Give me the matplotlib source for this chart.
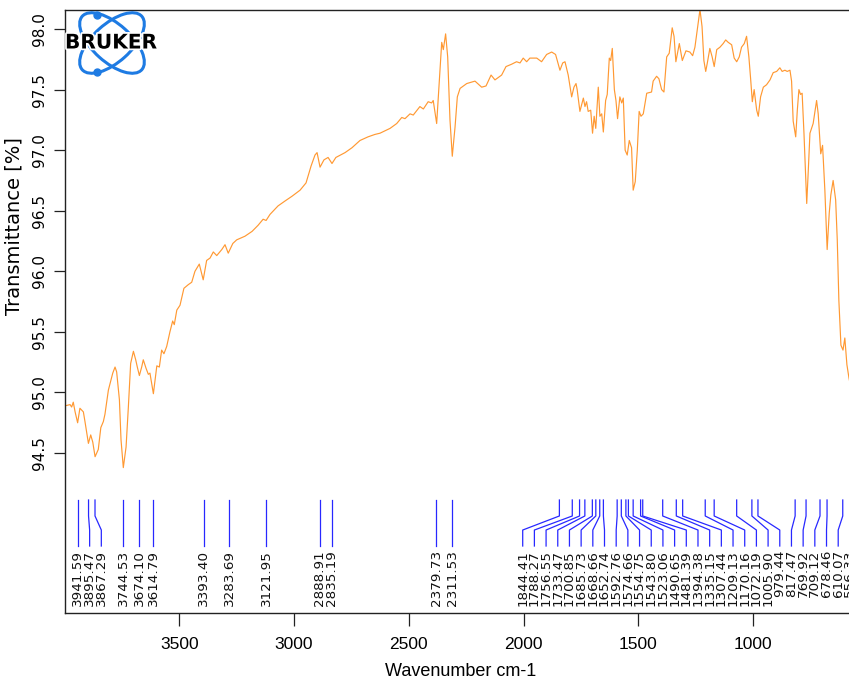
import matplotlib
matplotlib.use("Agg")
import matplotlib.pyplot as plt
import matplotlib.transforms as mtransforms
import matplotlib.patheffects as pe
from matplotlib.patches import Ellipse
import numpy as np

# spectrum (wavenumber cm-1, transmittance %)
wavenumber = [
    3998, 3976, 3969, 3962, 3954, 3943, 3933, 3918, 3911, 3896, 3886, 3877, 3867, 3853, 3842, 3831,
    3824, 3809, 3790, 3780, 3773, 3761, 3754, 3744, 3732, 3722, 3712, 3700, 3690, 3683, 3674, 3664,
    3657, 3645, 3635, 3628, 3613, 3606, 3598, 3587, 3577, 3567, 3555, 3541, 3529, 3522, 3511, 3497,
    3480, 3461, 3446, 3432, 3413, 3396, 3381, 3366, 3352, 3337, 3315, 3301, 3287, 3267, 3250,
    3214, 3183, 3157, 3135, 3122, 3105, 3070, 3040, 3009, 2974, 2948, 2926, 2909, 2900, 2887, 2870,
    2852, 2835, 2818, 2778, 2748, 2713, 2678, 2648,
    2626, 2582, 2553, 2531, 2517, 2495, 2481, 2452, 2437, 2416, 2401, 2394, 2379, 2368, 2357, 2350,
    2340, 2331, 2321, 2311, 2299, 2289, 2277, 2248, 2212, 2183, 2164, 2142, 2125, 2096, 2077, 2052,
    2031, 2016, 2002, 1987, 1973, 1943, 1922, 1900, 1878, 1861, 1842, 1830, 1820, 1806, 1791, 1781,
    1772, 1767, 1755, 1740, 1733, 1726, 1719, 1708, 1700, 1693, 1686, 1675, 1668, 1660, 1653, 1643,
    1636, 1627, 1621, 1614, 1605, 1598, 1591, 1581, 1573, 1566, 1558, 1549, 1540, 1530, 1523, 1514,
    1505, 1497, 1489, 1479, 1464, 1443, 1436, 1421, 1411, 1399, 1389, 1377, 1366, 1353, 1345, 1337,
    1322, 1309, 1293, 1276, 1264, 1254, 1244, 1232, 1223, 1215, 1207, 1200, 1189, 1179, 1170, 1159,
    1145, 1131, 1120, 1109, 1094, 1083, 1072, 1061, 1051, 1039, 1029, 1019, 1011, 1004, 996, 985,
    978, 968, 956, 942, 927, 913, 898, 884, 874, 862, 852, 840, 833, 826, 815, 808,
    801, 794, 787, 779, 767, 760, 753, 739, 724, 717, 706, 698, 688, 678, 669, 662,
    652, 641, 634, 627, 618, 609, 601, 592, 583, 565, 548,
]
transmittance = [
    94.89, 94.90, 94.88, 94.92, 94.84, 94.75, 94.87, 94.84, 94.76, 94.58, 94.65, 94.59, 94.47, 94.53, 94.71, 94.76,
    94.82, 95.02, 95.16, 95.21, 95.17, 94.94, 94.61, 94.38, 94.55, 94.88, 95.24, 95.34, 95.27, 95.21, 95.14, 95.21,
    95.27, 95.20, 95.15, 95.16, 94.99, 95.10, 95.22, 95.21, 95.35, 95.32, 95.38, 95.50, 95.59, 95.56, 95.68, 95.72,
    95.86, 95.89, 95.91, 96.00, 96.06, 95.93, 96.09, 96.11, 96.16, 96.13, 96.18, 96.22, 96.15, 96.23, 96.26,
    96.29, 96.33, 96.38, 96.43, 96.42, 96.47, 96.54, 96.58, 96.62, 96.67, 96.73, 96.87, 96.96, 96.98, 96.86, 96.92,
    96.94, 96.89, 96.94, 96.98, 97.02, 97.08, 97.11, 97.13,
    97.14, 97.18, 97.22, 97.27, 97.26, 97.30, 97.29, 97.36, 97.34, 97.40, 97.39, 97.41, 97.22, 97.55, 97.89, 97.83,
    97.96, 97.77, 97.25, 96.95, 97.19, 97.44, 97.51, 97.55, 97.57, 97.52, 97.53, 97.62, 97.58, 97.62, 97.69, 97.71,
    97.73, 97.72, 97.76, 97.73, 97.76, 97.76, 97.73, 97.79, 97.81, 97.79, 97.66, 97.72, 97.73, 97.62, 97.44, 97.52,
    97.55, 97.50, 97.32, 97.43, 97.36, 97.40, 97.32, 97.33, 97.14, 97.28, 97.18, 97.52, 97.28, 97.30, 97.15, 97.41,
    97.46, 97.76, 97.74, 97.84, 97.50, 97.41, 97.26, 97.44, 97.39, 97.43, 97.00, 96.96, 97.08, 97.02, 96.67, 96.74,
    97.00, 97.32, 97.28, 97.30, 97.47, 97.48, 97.57, 97.61, 97.59, 97.50, 97.48, 97.77, 97.80, 98.01, 97.94, 97.73,
    97.88, 97.74, 97.82, 97.81, 97.78, 97.85, 97.99, 98.16, 98.02, 97.74, 97.65, 97.72, 97.84, 97.77, 97.69, 97.83,
    97.85, 97.88, 97.91, 97.89, 97.87, 97.76, 97.73, 97.77, 97.85, 97.88, 97.94, 97.77, 97.58, 97.40, 97.50, 97.33,
    97.28, 97.44, 97.52, 97.54, 97.58, 97.64, 97.65, 97.68, 97.65, 97.66, 97.65, 97.66, 97.57, 97.24, 97.11, 97.33,
    97.50, 97.46, 97.47, 97.14, 96.56, 96.84, 97.14, 97.22, 97.41, 97.30, 96.97, 97.04, 96.67, 96.18, 96.48, 96.63,
    96.75, 96.59, 96.26, 95.76, 95.39, 95.35, 95.45, 95.23, 95.12, 94.95, 94.85,
]

# picked peaks (the last one sits past the cropped right edge)
peaks = [
    3941.59, 3895.47, 3867.29, 3744.53, 3674.10, 3614.79, 3393.40, 3283.69, 3121.95,
    2888.91, 2835.19, 2379.73, 2311.53,
    1844.41, 1788.27, 1756.55, 1733.47, 1700.85, 1685.73, 1668.66, 1652.74,
    1592.76, 1574.66, 1554.75, 1543.80, 1523.06, 1490.65, 1481.39, 1394.38,
    1335.15, 1307.44, 1209.13, 1170.16, 1072.19, 1005.90, 979.44,
    817.47, 769.92, 709.12, 678.46, 610.07, 556.33,
]
peak_labels = ['%.2f' % p for p in peaks]

x_ticks = [3500, 3000, 2500, 2000, 1500, 1000]
y_ticks = [94.5, 95.0, 95.5, 96.0, 96.5, 97.0, 97.5, 98.0]

narrow = ['Liberation Sans Narrow', 'Liberation Sans', 'DejaVu Sans']
plt.rcParams['font.family'] = ['DejaVu Sans']

fig = plt.figure(figsize=(8.49, 6.86), dpi=100)
# the plot frame runs a little past the right edge of the picture (it was cropped)
ax = fig.add_axes([65 / 849, 73 / 686, 792 / 849, 603 / 686])
ax.plot(wavenumber, transmittance, color='#FF9933', linewidth=0.85)
ax.set_xlim(3998, 548)
ax.set_ylim(93.18, 98.157)

for s in ax.spines.values():
    s.set_linewidth(1.0)
    s.set_color('#222222')

ax.set_xticks(x_ticks)
ax.set_xticklabels([str(x) for x in x_ticks])
ax.set_yticks(y_ticks)
ax.set_yticklabels(['%.1f' % y for y in y_ticks])
ax.tick_params(axis='x', length=9, width=0.9, pad=8.5, labelsize=12.5, color='#222222')
ax.tick_params(axis='y', length=8, width=0.9, pad=5, labelsize=11, labelrotation=90, color='#222222')
for lbl in ax.get_xticklabels():
    lbl.set_fontfamily(narrow)
for lbl in ax.get_yticklabels():
    lbl.set_verticalalignment('center')

ax.set_xlabel('Wavenumber cm-1', fontsize=13, family=narrow, labelpad=8)
ax.set_ylabel('Transmittance [%]', fontsize=14)
ax.yaxis.set_label_coords(-0.052, 0.642)

# peak marker lines and labels, spread so they do not overlap
min_gap = 50.9
label_bound = 579.0
pos = list(peaks)
for i in range(1, len(pos)):
    pos[i] = min(pos[i], pos[i - 1] - min_gap)
pos[-1] = max(pos[-1], label_bound)
for i in range(len(pos) - 2, -1, -1):
    pos[i] = max(pos[i], pos[i + 1] + min_gap)

trans = mtransforms.blended_transform_factory(ax.transData, ax.transAxes)
for p, lp, txt in zip(peaks, pos, peak_labels):
    ax.plot([p, p, lp, lp], [0.1874, 0.1609, 0.1376, 0.1111], transform=trans,
            color='#2828FF', linewidth=0.9, clip_on=False)
    ax.text(lp, 0.1045, txt, transform=trans, rotation=90, ha='center', va='top',
            fontsize=9.7, color='#111111', clip_on=False)

# Bruker logo in the corner
lax = fig.add_axes([58 / 849, (686 - 80) / 686, 112 / 849, 74 / 686])
lax.set_xlim(58, 170)
lax.set_ylim(80, 6)
lax.axis('off')
for ang in (42, -42):
    lax.add_patch(Ellipse((112, 43), 80, 38, angle=ang, fill=False, edgecolor='#1E7BE3', linewidth=2.2))
lax.plot([97, 97], [15, 72], 'o', color='#1E7BE3', markersize=5)
lax.text(111, 43, 'BRUKER', ha='center', va='center', fontsize=14.5, fontweight='bold', color='black',
         path_effects=[pe.withStroke(linewidth=2.5, foreground='white')])

fig.savefig('out.png', dpi=100)
